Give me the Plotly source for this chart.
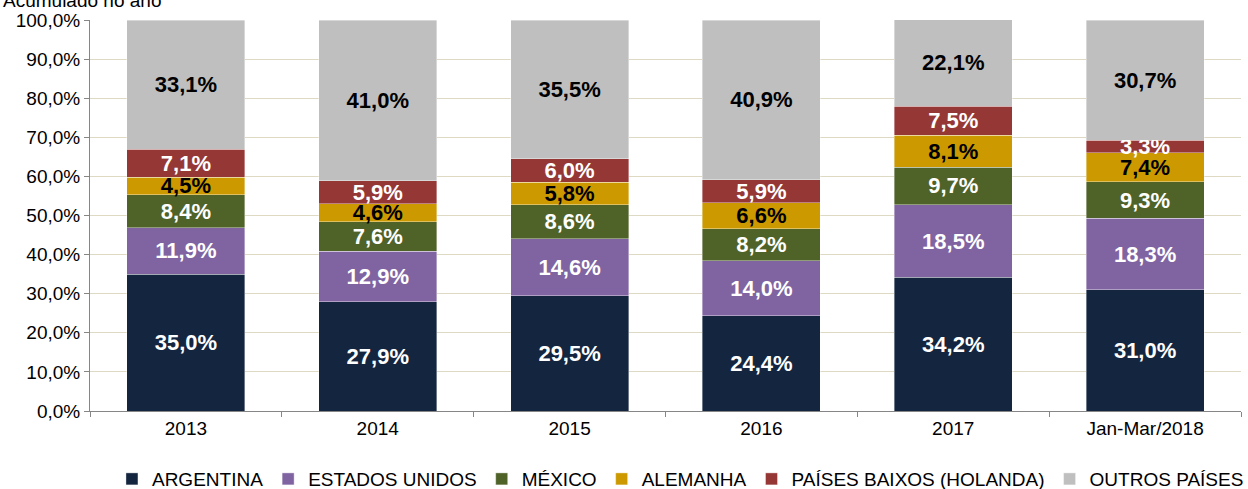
import plotly.graph_objects as go

categories = ["2013", "2014", "2015", "2016", "2017", "Jan-Mar/2018"]
argentina = [35.0, 27.9, 29.5, 24.4, 34.2, 31.0]
estados_unidos = [11.9, 12.9, 14.6, 14.0, 18.5, 18.3]
mexico = [8.4, 7.6, 8.6, 8.2, 9.7, 9.3]
alemanha = [4.5, 4.6, 5.8, 6.6, 8.1, 7.4]
holanda = [7.1, 5.9, 6.0, 5.9, 7.5, 3.3]
outros = [33.1, 41.0, 35.5, 40.9, 22.1, 30.7]
y_ticks = [0, 10, 20, 30, 40, 50, 60, 70, 80, 90, 100]

series = [
    ("ARGENTINA", argentina, "#14253F", "white"),
    ("ESTADOS UNIDOS", estados_unidos, "#8064A2", "white"),
    ("MÉXICO", mexico, "#4F6228", "white"),
    ("ALEMANHA", alemanha, "#CC9A00", "black"),
    ("PAÍSES BAIXOS (HOLANDA)", holanda, "#953735", "white"),
    ("OUTROS PAÍSES", outros, "#BFBFBF", "black"),
]

FONT = "Liberation Sans, Arial, sans-serif"

fig = go.Figure()
for name, vals, color, tcolor in series:
    fig.add_trace(go.Bar(
        name=name,
        x=categories,
        y=vals,
        marker=dict(color=color, line=dict(color="rgba(255,255,255,0.5)", width=0.75)),
        text=[f"{v:.1f}%".replace(".", ",") for v in vals],
        textposition="inside",
        insidetextanchor="middle",
        textangle=0,
        textfont=dict(family=FONT, size=22, color=tcolor, weight="bold"),
        hoverinfo="skip",
    ))

fig.update_layout(
    barmode="stack",
    bargap=0.385,
    width=1248,
    height=489,
    margin=dict(l=90, r=7, t=20, b=78, autoexpand=False),
    paper_bgcolor="white",
    plot_bgcolor="white",
    separators=",.",
    font=dict(family=FONT, size=19, color="black"),
    uniformtext=dict(mode="show", minsize=22),
    showlegend=True,
    legend=dict(
        orientation="h",
        xref="paper", yref="paper",
        x=0.513, xanchor="center",
        y=-0.174, yanchor="middle",
        font=dict(family=FONT, size=19, color="black"),
        traceorder="normal",
        itemwidth=30,
    ),
    xaxis=dict(
        showline=True, linecolor="#868686", linewidth=1,
        ticks="outside", ticklen=5, tickcolor="#868686",
        tickson="boundaries",
        tickfont=dict(family=FONT, size=19),
        automargin=False,
    ),
    yaxis=dict(
        range=[0, 100],
        tickvals=y_ticks,
        ticktext=[f"{v:.1f}%".replace(".", ",") for v in y_ticks],
        showline=True, linecolor="#868686", linewidth=1,
        ticks="outside", ticklen=5, tickcolor="#868686",
        showgrid=True, gridcolor="#DDD9C3", gridwidth=1,
        zeroline=False,
        tickfont=dict(family=FONT, size=19),
        automargin=False,
    ),
    annotations=[dict(
        text="Acumulado no ano",
        xref="paper", yref="paper",
        x=-0.077, y=1.018,
        xanchor="left", yanchor="bottom",
        showarrow=False,
        font=dict(family=FONT, size=19, color="black"),
    )],
)

fig.write_html(
    "out.html",
    config={"displayModeBar": False},
    post_script="document.body.style.margin='0';document.body.style.overflow='hidden';",
)
